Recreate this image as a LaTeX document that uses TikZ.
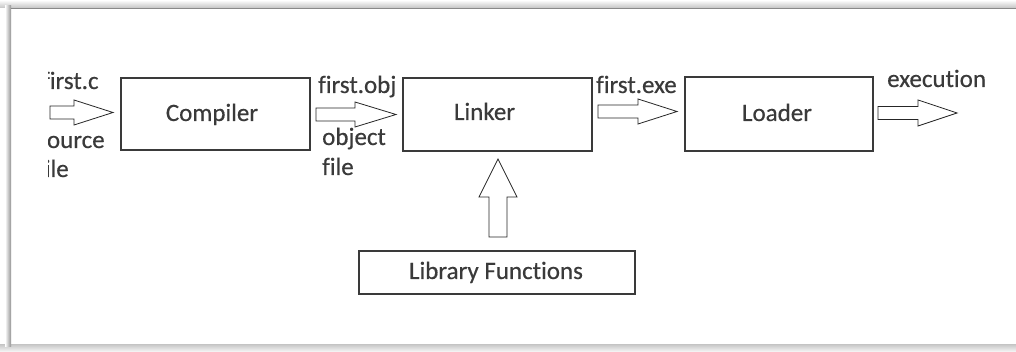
\documentclass[tikz,border=0pt]{standalone}
\usepackage{fontspec}
\setmainfont{Carlito}[Ligatures=NoCommon,FakeBold=0.4]
\definecolor{ink}{HTML}{3A3A3A}
\definecolor{edge}{HTML}{C4C4C4}
\begin{document}
\begin{tikzpicture}[x=1pt,y=-1pt,
  stage/.style={draw=ink,line width=1.1pt,fill=white},
  word/.style={text=ink,inner sep=0pt,font=\fontsize{25}{30}\selectfont},
  blockarrow/.style={draw=black!85,line width=0.8pt,fill=white,line join=miter}]
\useasboundingbox (0,0) rectangle (1016,352);

% page frame with soft edges
\fill[white] (0,0) rectangle (1016,352);
\shade[top color=white,bottom color=edge] (0,0) rectangle (1016,8);
\shade[top color=edge,bottom color=white!95!gray] (0,344) rectangle (1016,352);
\shade[left color=white,right color=edge!75!black] (5,6) rectangle (11,346);
\draw[edge!70!black,line width=0.6pt] (11,8) -- (1016,8);

% processing stages
\draw[stage] (121,78) rectangle (310,150);
\draw[stage] (403,78) rectangle (592,151);
\draw[stage] (685,77) rectangle (873,151);
\draw[stage] (359,251) rectangle (635,294);

\node[word,anchor=base] (compiler) at (212,121) {Compiler};
\node[word,anchor=base] (linker) at (484.5,120) {Linker};
\node[word,anchor=base] (loader) at (777,121) {Loader};
\node[word,anchor=base] (library) at (496,279) {Library Functions};

% block arrow: #1 shaft start x, #2 head start x, #3 tip x, #4 centre y, #5 shaft half, #6 head half
\newcommand{\harrow}[6]{%
  \draw[blockarrow] (#1,#4-#5) -- (#2,#4-#5) -- (#2,#4-#6) -- (#3,#4)
    -- (#2,#4+#6) -- (#2,#4+#5) -- (#1,#4+#5) -- cycle;}

\begin{scope}
  \clip (48,0) rectangle (1016,352);
  \harrow{50}{74}{113}{112.5}{6.5}{12.5}
  \node[word,anchor=base west] (srcname) at (42,89) {first.c};
  \node[word,anchor=base west] (srcA) at (37,148) {source};
  \node[word,anchor=base west] (srcB) at (37,177) {file};
\end{scope}

\harrow{316}{355}{396}{114.5}{6.5}{12.5}
\harrow{598}{638}{677}{111.5}{6.5}{12.5}
\harrow{878}{918}{957}{113}{6.5}{13}

% library feeds the linker from below
\draw[blockarrow] (489,237) -- (489,197) -- (479,197) -- (498,159)
  -- (517,197) -- (507,197) -- (507,237) -- cycle;

\node[word,anchor=base west] (objname) at (318,93) {first.obj};
\node[word,anchor=base west] (objA) at (322,145) {object};
\node[word,anchor=base west] (objB) at (322,175) {file};
\node[word,anchor=base west] (exename) at (596,93) {first.exe};
\node[word,anchor=base west] (run) at (887,87) {execution};
\end{tikzpicture}
\end{document}
